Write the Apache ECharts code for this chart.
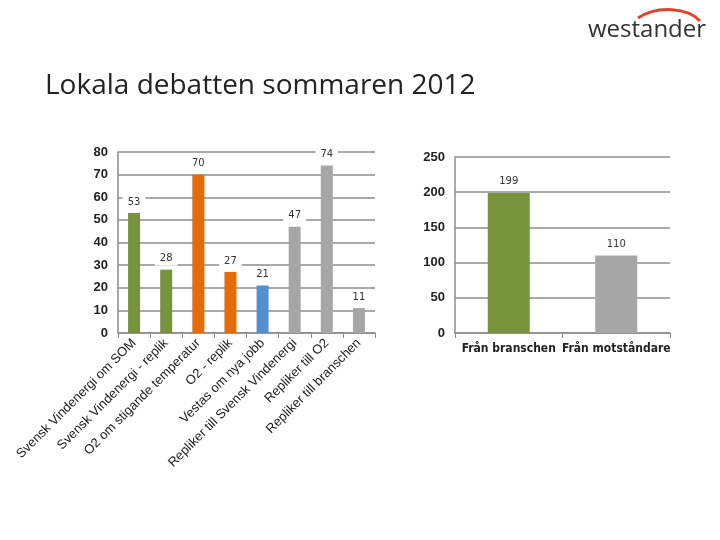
<!DOCTYPE html>
<html><head><meta charset="utf-8">
<script src="https://cdn.jsdelivr.net/npm/echarts@6/dist/echarts.min.js"></script>
<style>html,body{margin:0;padding:0;background:#fff}#c{width:720px;height:540px}</style>
</head><body><div id="c"></div>
<script>
const title = 'Lokala debatten sommaren 2012';
const leftCategories = ['Svensk Vindenergi om SOM','Svensk Vindenergi - replik','O2 om stigande temperatur','O2 - replik','Vestas om nya jobb','Repliker till Svensk Vindenergi','Repliker till O2','Repliker till branschen'];
const leftValues = [53, 28, 70, 27, 21, 47, 74, 11];
const leftColors = ['#77933C','#77933C','#E36C09','#E36C09','#558ED5','#A6A6A6','#A6A6A6','#A6A6A6'];
const leftTicks = [0,10,20,30,40,50,60,70,80];
const rightCategories = ['Från branschen','Från motståndare'];
const rightValues = [199, 110];
const rightColors = ['#77933C','#A6A6A6'];
const rightTicks = [0,50,100,150,200,250];

const chart = echarts.init(document.getElementById('c'));
const gridLine = {show:true, lineStyle:{color:'#8c8c8c', width:1.5}};
const axisLine = {show:true, lineStyle:{color:'#8c8c8c', width:1.5}};
const yLabel = {color:'#222', fontSize:13, fontWeight:'bold', fontFamily:'Liberation Sans', margin:10};
const barLabel = {show:true, position:'top', distance:4, color:'#333', fontSize:10, fontFamily:'DejaVu Sans', backgroundColor:'#fff', padding:[2,5]};

chart.setOption({
  animation:false,
  graphic:[
    {type:'text', left:45, top:72, style:{text:title, fontSize:28, fontFamily:'Open Sans', fill:'#222'}},
    {type:'text', left:588, top:18, style:{text:'westander', fontSize:24, fontFamily:'Open Sans', fill:'#333'}},
    {type:'bezierCurve', shape:{x1:638, y1:18, cpx1:658, cpy1:5, cpx2:688, cpy2:8, x2:700, y2:21}, style:{stroke:'#E0442A', lineWidth:3, fill:null}}
  ],
  grid:[
    {left:118, right:345, top:152, bottom:207},
    {left:455, right:50, top:157, bottom:207}
  ],
  xAxis:[
    {type:'category', gridIndex:0, data:leftCategories, axisLine:axisLine, axisTick:{show:true, length:5, lineStyle:{color:'#8c8c8c'}},
     axisLabel:{rotate:45, interval:0, color:'#222', fontSize:13, fontFamily:'Liberation Sans', margin:8}},
    {type:'category', gridIndex:1, data:rightCategories, axisLine:axisLine, axisTick:{show:true, length:5, lineStyle:{color:'#8c8c8c'}},
     axisLabel:{interval:0, color:'#222', fontSize:12, fontWeight:'bold', fontFamily:'DejaVu Sans Condensed', margin:10}}
  ],
  yAxis:[
    {type:'value', gridIndex:0, min:leftTicks[0], max:leftTicks[leftTicks.length-1], interval:10, splitLine:gridLine, axisLine:axisLine, axisLabel:yLabel},
    {type:'value', gridIndex:1, min:rightTicks[0], max:rightTicks[rightTicks.length-1], interval:50, splitLine:gridLine, axisLine:axisLine, axisLabel:yLabel}
  ],
  series:[
    {type:'bar', xAxisIndex:0, yAxisIndex:0, barWidth:12, label:barLabel,
     data:leftValues.map((v,i)=>({value:v, itemStyle:{color:leftColors[i]}}))},
    {type:'bar', xAxisIndex:1, yAxisIndex:1, barWidth:42, label:barLabel,
     data:rightValues.map((v,i)=>({value:v, itemStyle:{color:rightColors[i]}}))}
  ]
});
</script></body></html>
